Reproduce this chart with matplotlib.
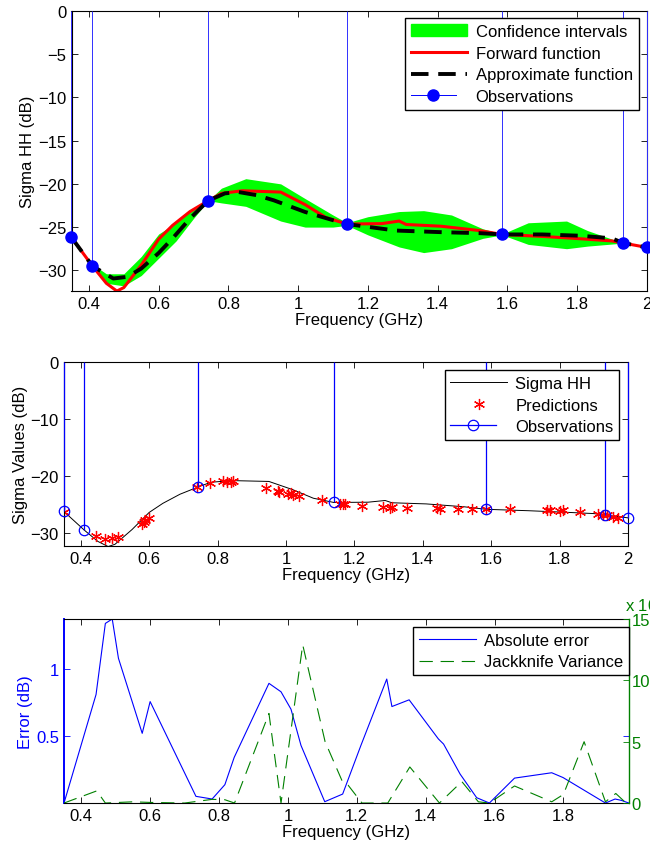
import matplotlib
matplotlib.use("Agg")
import matplotlib.pyplot as plt
from matplotlib.lines import Line2D
from matplotlib.patches import Patch
from matplotlib.legend_handler import HandlerLine2D
from matplotlib.ticker import FuncFormatter

plt.rcParams['font.family'] = ['Liberation Sans', 'DejaVu Sans']
plt.rcParams['font.size'] = 12

# observations (GHz, dB)
obs_x = [0.35, 0.41, 0.742, 1.14, 1.585, 1.933, 2.0]
obs_y = [-26.2, -29.5, -21.95, -24.65, -25.85, -26.85, -27.35]

# confidence band
band_x = [0.35, 0.41, 0.45, 0.50, 0.55, 0.60, 0.65, 0.70, 0.742, 0.78, 0.85, 0.95, 1.02,
          1.10, 1.14, 1.20, 1.29, 1.36, 1.44, 1.53, 1.585, 1.66, 1.77, 1.83, 1.933, 2.0]
band_hi = [-26.2, -29.3, -30.4, -30.4, -28.4, -25.8, -24.5, -22.8, -21.95, -20.5, -19.4, -20.0, -21.7,
           -23.6, -24.5, -23.8, -23.2, -23.1, -23.6, -25.2, -25.8, -24.5, -24.3, -25.4, -26.85, -27.35]
band_lo = [-26.2, -29.7, -31.5, -31.8, -30.6, -28.6, -26.6, -24.0, -21.95, -22.2, -22.6, -24.3, -25.0,
           -25.0, -24.8, -25.9, -27.3, -27.95, -27.5, -26.3, -25.9, -27.0, -27.5, -27.2, -26.85, -27.35]

# forward function (also "Sigma HH")
fwd_x = [0.35, 0.41, 0.45, 0.48, 0.50, 0.55, 0.60, 0.64, 0.69, 0.742, 0.78, 0.84, 0.95, 1.02,
         1.08, 1.14, 1.24, 1.29, 1.31, 1.41, 1.52, 1.585, 1.71, 1.81, 1.90, 1.933, 2.0]
fwd_y = [-26.2, -29.5, -31.5, -32.4, -32.0, -29.4, -26.4, -24.8, -23.2, -21.95, -21.1, -20.8, -20.95, -22.4,
         -23.9, -24.65, -24.6, -24.3, -24.7, -24.9, -25.4, -25.85, -26.1, -26.35, -26.6, -26.85, -27.35]

# approximate function
app_x = [0.35, 0.41, 0.47, 0.51, 0.55, 0.60, 0.64, 0.69, 0.742, 0.79, 0.83, 0.88, 0.93, 1.02,
         1.10, 1.14, 1.28, 1.42, 1.52, 1.585, 1.70, 1.81, 1.90, 1.933, 2.0]
app_y = [-26.2, -29.5, -30.95, -30.75, -29.8, -28.0, -26.3, -24.0, -21.95, -21.1, -20.95, -21.3, -21.9, -23.25,
         -24.2, -24.65, -25.4, -25.6, -25.7, -25.85, -25.85, -26.0, -26.3, -26.85, -27.35]

# predictions
pred_x = [0.35, 0.443, 0.471, 0.49, 0.508, 0.578, 0.584, 0.588, 0.6, 0.739, 0.778, 0.817, 0.827, 0.84,
          0.845, 0.943, 0.977, 0.981, 1.007, 1.015, 1.021, 1.039, 1.104, 1.158, 1.168, 1.172, 1.222,
          1.285, 1.304, 1.31, 1.353, 1.441, 1.45, 1.504, 1.543, 1.585, 1.655, 1.762, 1.771, 1.801,
          1.81, 1.86, 1.913, 1.928, 1.938, 1.957, 1.972]
pred_y = [-26.3, -30.6, -31.0, -30.9, -30.7, -28.4, -28.1, -27.8, -27.3, -21.9, -21.2, -20.9, -21.1, -21.05,
          -20.9, -22.1, -22.6, -22.8, -23.1, -23.0, -23.3, -23.5, -24.3, -24.9, -25.0, -25.0, -25.3,
          -25.4, -25.55, -25.4, -25.7, -25.7, -25.8, -25.85, -25.85, -25.8, -25.85, -26.0, -25.9, -26.1,
          -26.0, -26.3, -26.7, -26.9, -26.8, -27.2, -27.3]

# absolute error (dB)
err_x = [0.35, 0.443, 0.47, 0.49, 0.508, 0.577, 0.60, 0.733, 0.78, 0.817, 0.844, 0.945, 0.98, 1.009,
         1.038, 1.107, 1.159, 1.212, 1.287, 1.302, 1.352, 1.437, 1.452, 1.50, 1.548, 1.585, 1.658,
         1.766, 1.799, 1.922, 1.95, 1.968, 1.99]
err_y = [0.0, 0.81, 1.34, 1.373, 1.08, 0.52, 0.757, 0.05, 0.03, 0.137, 0.34, 0.893, 0.83, 0.70,
         0.43, 0.01, 0.067, 0.43, 0.925, 0.72, 0.77, 0.478, 0.44, 0.216, 0.04, 0.0, 0.186,
         0.226, 0.19, 0.0, 0.03, 0.02, 0.0]

# jackknife variance (x 1e-3)
var_x = [0.35, 0.445, 0.47, 0.55, 0.60, 0.70, 0.78, 0.817, 0.845, 0.945, 0.98, 1.043, 1.108, 1.159,
         1.175, 1.215, 1.29, 1.354, 1.44, 1.505, 1.553, 1.585, 1.658, 1.766, 1.80, 1.86, 1.922, 1.952,
         1.978, 1.99]
var_y = [0.0, 0.99, 0.0, 0.1, 0.05, 0.0, 0.3, 0.27, 0.0, 7.3, 0.0, 12.9, 5.0, 1.7,
         1.45, 0.0, 0.0, 2.94, 0.0, 1.75, 0.1, 0.0, 1.39, 0.1, 0.7, 5.0, 0.1, 0.78,
         0.1, 0.05]


def fmt(v, p):
    return ('%g' % v).replace('-', '\u2212')


class StemHandler(HandlerLine2D):
    def get_xdata(self, legend, xdescent, ydescent, width, height, fontsize):
        return [-xdescent, -xdescent + width * 0.8], [-xdescent + width * 0.8]


def style(ax):
    ax.tick_params(direction='in', top=True, right=True, length=4, width=0.6, labelsize=12)
    for s in ax.spines.values():
        s.set_linewidth(0.8)
    ax.xaxis.set_major_formatter(FuncFormatter(fmt))
    ax.yaxis.set_major_formatter(FuncFormatter(fmt))


leg_kw = dict(loc='upper right', fancybox=False, framealpha=1, edgecolor='black',
              handlelength=3.4, labelspacing=0.4, borderpad=0.35, handletextpad=0.5,
              borderaxespad=0)

fig = plt.figure(figsize=(6.5, 8.54), dpi=100)

# ---- panel 1
ax1 = fig.add_axes([0.110, 0.658, 0.885, 0.328])
ax1.fill_between(band_x, band_lo, band_hi, color='#00ff00', lw=0)
ax1.plot(fwd_x, fwd_y, color='red', lw=2.2)
ax1.plot(app_x, app_y, color='black', lw=2.8, dashes=(4.5, 2.5))
ax1.vlines(obs_x, obs_y, 0, colors='#3030ff', lw=0.7, clip_on=False, zorder=3)
ax1.plot(obs_x, obs_y, 'o', color='blue', ms=8, clip_on=False, zorder=5)
ax1.set_xlim(0.35, 2.0)
ax1.set_ylim(-32.4, 0)
ax1.set_xticks([0.4, 0.6, 0.8, 1.0, 1.2, 1.4, 1.6, 1.8, 2.0])
ax1.set_yticks([0, -5, -10, -15, -20, -25, -30])
ax1.set_xlabel('Frequency (GHz)', labelpad=1)
ax1.set_ylabel('Sigma HH (dB)', labelpad=2)
style(ax1)
h1 = [Patch(color='#00ff00'),
      Line2D([], [], color='red', lw=2.2),
      Line2D([], [], color='black', lw=2.8, dashes=(4.5, 2.5)),
      Line2D([], [], color='blue', lw=0.7, marker='o', ms=8)]
ax1.legend(h1, ['Confidence intervals', 'Forward function', 'Approximate function', 'Observations'],
           bbox_to_anchor=(0.986, 0.974), handler_map={h1[3]: StemHandler(numpoints=1)}, **leg_kw)

# ---- panel 2
ax2 = fig.add_axes([0.098, 0.3595, 0.868, 0.2151])
ax2.plot(fwd_x, fwd_y, color='black', lw=0.7)
ax2.plot(pred_x, pred_y, ls='none', marker=(6, 2, 0), ms=8, mew=0.9, color='red')
ax2.vlines(obs_x, obs_y, 0, colors='blue', lw=0.9, clip_on=False, zorder=3)
ax2.plot(obs_x, obs_y, 'o', mfc='none', mec='blue', ms=7.5, mew=0.9, clip_on=False, zorder=5)
ax2.set_xlim(0.35, 2.0)
ax2.set_ylim(-32.3, 0)
ax2.set_xticks([0.4, 0.6, 0.8, 1.0, 1.2, 1.4, 1.6, 1.8, 2.0])
ax2.set_yticks([0, -10, -20, -30])
ax2.set_xlabel('Frequency (GHz)', labelpad=1)
ax2.set_ylabel('Sigma Values (dB)', labelpad=2)
style(ax2)
h2 = [Line2D([], [], color='black', lw=0.7),
      Line2D([], [], ls='none', marker=(6, 2, 0), ms=8, mew=0.9, color='red'),
      Line2D([], [], color='blue', lw=0.9, marker='o', mfc='none', ms=7.5, mew=0.9)]
ax2.legend(h2, ['Sigma HH', 'Predictions', 'Observations'],
           bbox_to_anchor=(0.985, 0.958), handler_map={h2[2]: StemHandler(numpoints=1)}, **leg_kw)

# ---- panel 3
ax3 = fig.add_axes([0.0985, 0.0585, 0.869, 0.2155])
ax3b = ax3.twinx()
l1, = ax3.plot(err_x, err_y, color='blue', lw=0.8)
l2, = ax3b.plot(var_x, var_y, color='#008000', lw=0.8, dashes=(12, 7))
ax3.set_xlim(0.35, 1.99)
ax3.set_ylim(0, 1.373)
ax3b.set_ylim(0, 15)
ax3.set_xticks([0.4, 0.6, 0.8, 1.0, 1.2, 1.4, 1.6, 1.8])
ax3.set_yticks([0.5, 1.0])
ax3b.set_yticks([0, 5, 10, 15])
ax3.set_xlabel('Frequency (GHz)', labelpad=1)
ax3.set_ylabel('Error (dB)', color='blue', labelpad=2)
style(ax3)
ax3.tick_params(axis='y', colors='blue')
ax3b.tick_params(direction='in', length=4, width=0.6, labelsize=12, colors='#008000', pad=2)
ax3b.yaxis.set_major_formatter(FuncFormatter(fmt))
ax3.spines['left'].set_color('blue')
ax3.spines['left'].set_linewidth(1.4)
ax3.spines['right'].set_visible(False)
ax3b.spines['left'].set_visible(False)
ax3b.spines['right'].set_color('#008000')
ax3b.spines['right'].set_linewidth(1.0)
for s in ['top', 'bottom']:
    ax3b.spines[s].set_visible(False)
fig.text(0.961, 0.2915, 'x 10$^{-3}$', color='#008000', fontsize=12, va='center', ha='left')
ax3b.legend([l1, l2], ['Absolute error', 'Jackknife Variance'],
            bbox_to_anchor=(1.0, 0.957), **leg_kw)

fig.savefig('out.png', dpi=100)
